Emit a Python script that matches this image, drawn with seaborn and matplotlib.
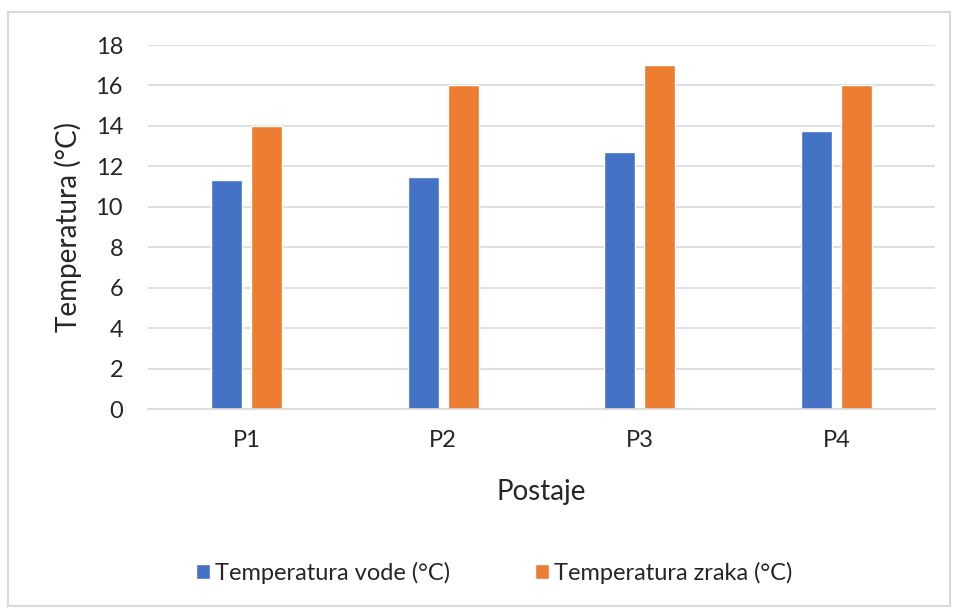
import matplotlib
matplotlib.use("Agg")
import matplotlib.pyplot as plt
from matplotlib.patches import Rectangle
import seaborn as sns
import pandas as pd

# data
stations = ["P1", "P2", "P3", "P4"]
water_temp = [11.32, 11.45, 12.69, 13.77]
air_temp = [14, 16, 17, 16]
series_names = ["Temperatura vode (°C)", "Temperatura zraka (°C)"]
palette = ["#4472C4", "#ED7D31"]

df = pd.DataFrame({
    "Postaje": stations * 2,
    "Temperatura": water_temp + air_temp,
    "Serija": [series_names[0]] * 4 + [series_names[1]] * 4,
})

sns.set_theme(style="white")
plt.rcParams["font.family"] = ["Lato", "DejaVu Sans"]

fig = plt.figure(figsize=(9.55, 6.1), dpi=100)
ax = fig.add_axes([148 / 955, 1 - 409 / 610, 787 / 955, 364 / 610])

sns.barplot(data=df, x="Postaje", y="Temperatura", hue="Serija",
            palette=palette, width=0.406, gap=0.22, saturation=1,
            ax=ax, legend=True)

ax.set_ylim(0, 18)
ax.set_xlim(-0.5, 3.5)
ax.set_yticks(range(0, 19, 2))
ax.yaxis.grid(True, color="#d9d9d9", linewidth=1.2)
ax.set_axisbelow(True)
for side in ["left", "right", "top"]:
    ax.spines[side].set_visible(False)
ax.spines["bottom"].set_color("#d9d9d9")
ax.spines["bottom"].set_linewidth(1.2)
ax.tick_params(axis="both", length=0, labelsize=17, colors="#262626", pad=18)
ax.tick_params(axis="x", pad=15)

ax.set_ylabel("Temperatura (°C)", fontsize=20, color="#262626", labelpad=10)
ax.set_xlabel("Postaje", fontsize=20, color="#262626", labelpad=20)

handles, labels = ax.get_legend_handles_labels()
ax.get_legend().remove()
fig.legend(handles, labels, loc="center", bbox_to_anchor=(494 / 955, 1 - 573 / 610),
           ncol=2, frameon=False, fontsize=17, handlelength=0.6, handleheight=0.6,
           columnspacing=3.6, handletextpad=0.2, labelcolor="#262626")

# light chart-area border
fig.patches.append(Rectangle((8 / 955, 1 - 606 / 610), 942 / 955, 594 / 610,
                             transform=fig.transFigure, fill=False,
                             edgecolor="#d9d9d9", linewidth=1.5))

fig.savefig("out.png", dpi=100)
